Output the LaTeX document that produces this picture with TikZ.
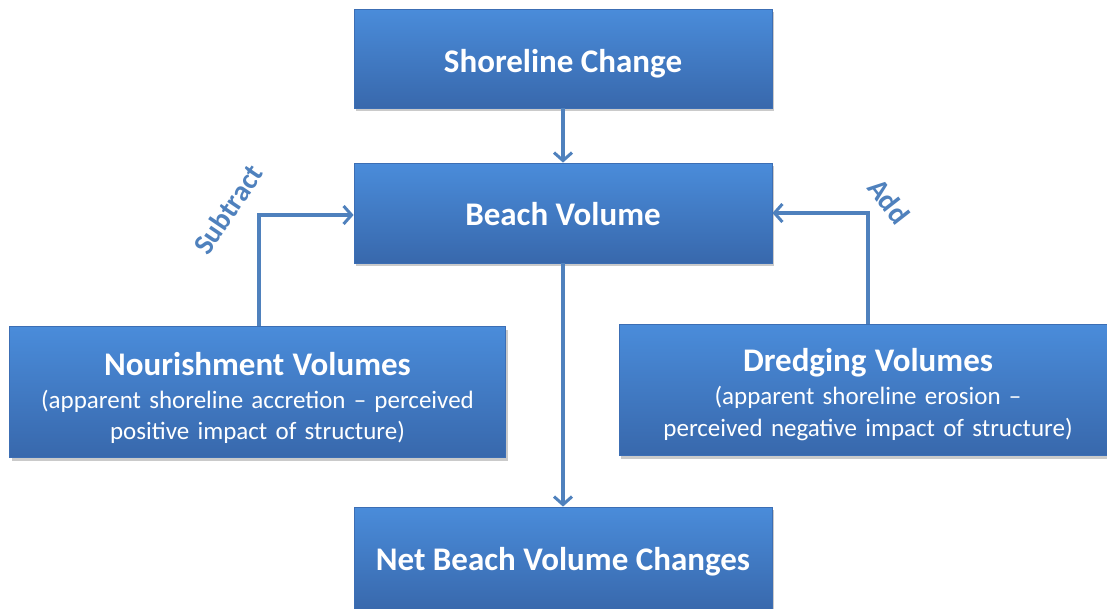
\documentclass[tikz,border=0pt]{standalone}
\usepackage{fontspec}
\setmainfont{Carlito}
\usetikzlibrary{arrows.meta,shadows,positioning}
\definecolor{boxtop}{RGB}{74,140,218}
\definecolor{boxbot}{RGB}{56,104,172}
\definecolor{boxedge}{RGB}{60,110,180}
\definecolor{arrowc}{RGB}{79,129,189}
\newcommand{\boxtitle}{\bfseries\fontsize{33}{38}\selectfont}
\newcommand{\boxsub}{\mdseries\fontsize{25}{32}\selectfont\spaceskip=0.33em plus 0.1em}
\newcommand{\lowered}[2]{\raisebox{#1}[0pt][0pt]{#2}}
\tikzset{
  bluebox/.style={draw=boxedge, line width=0.8pt, top color=boxtop, bottom color=boxbot,
    inner sep=0pt,
    drop shadow={shadow xshift=2pt, shadow yshift=-3pt, opacity=0.35, fill=black!60}},
  boxtext/.style={text=white, align=center, inner sep=0pt},
  titlefont/.style={font=\boxtitle},
  subfont/.style={font=\boxsub},
  conn/.style={draw=arrowc, line width=3.4pt, -{Straight Barb[length=8pt,width=18pt,line width=3pt]}},
  sidelabel/.style={text=arrowc, font=\bfseries\fontsize{29}{32}\selectfont}
}
\begin{document}
\begin{tikzpicture}[x=1pt,y=-1pt]
\useasboundingbox (0,0) rectangle (1107,608);
\node[bluebox, minimum width=418pt, minimum height=99pt] (shore) at (563,58.5) {};
\node[bluebox, minimum width=418pt, minimum height=100pt] (beach) at (563,213) {};
\node[bluebox, minimum width=496pt, minimum height=131pt] (nour) at (257.5,392) {};
\node[bluebox, minimum width=498pt, minimum height=131pt] (dred) at (868,390) {};
\node[bluebox, minimum width=418pt, minimum height=104pt] (net) at (563,559) {};
\node[boxtext, titlefont] (shoret) at (shore.center) {\lowered{-13.5pt}{Shoreline Change}};
\node[boxtext, titlefont] (beacht) at (beach.center) {\lowered{-12.5pt}{Beach Volume}};
\node[boxtext, titlefont] (nett) at (net.center) {\lowered{-11pt}{Net Beach Volume Changes}};
\node[boxtext, subfont, yshift=-6pt] (nourt) at (nour.center)
  {{\boxtitle Nourishment Volumes}\\[1.5pt]
   (apparent shoreline accretion -- perceived\\[-1pt] positive impact of structure)};
\node[boxtext, subfont, yshift=-5pt] (dredt) at (dred.center)
  {{\boxtitle Dredging Volumes}\\[1pt]
   (apparent shoreline erosion --\\ perceived negative impact of structure)};
\coordinate (nturn) at (259,215);
\coordinate (dturn) at (868,213);
\draw[conn] (shore.south) -- (beach.north);
\draw[conn] (beach.south) -- (net.north);
\draw[conn] (nour.north -| nturn) -- (nturn) -- (beach.west |- nturn);
\draw[conn] (dred.north -| dturn) -- (dturn) -- (beach.east |- dturn);
\node[sidelabel, rotate=56] (sub) at (228,209) {Subtract};
\node[sidelabel, rotate=-52] (add) at (889,201) {Add};
\end{tikzpicture}
\end{document}
